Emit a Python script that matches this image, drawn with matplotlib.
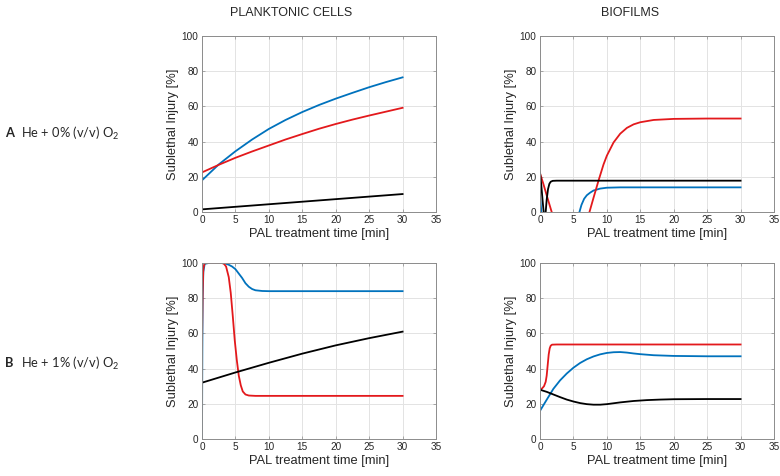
import numpy as np
import matplotlib
matplotlib.use("Agg")
import matplotlib.pyplot as plt

# ---------------- data ----------------
# A: He + 0% O2, planktonic cells
pa_blue_t = [0, 2.5, 5, 7.5, 10, 12.5, 15, 17.5, 20, 22.5, 25, 27.5, 30]
pa_blue_y = [18, 27, 34.5, 41.2, 47.2, 52.3, 56.8, 60.8, 64.4, 67.7, 70.9, 73.8, 76.5]
pa_red_t = [0, 2.5, 5, 7.5, 10, 12.5, 15, 17.5, 20, 22.5, 25, 27.5, 30]
pa_red_y = [22.5, 26.8, 30.8, 34.4, 37.8, 41.2, 44.3, 47.3, 50.0, 52.5, 54.8, 57.0, 59.2]
pa_blk_t = [0, 10, 20, 30]
pa_blk_y = [1.5, 4.4, 7.3, 10.2]

# A: He + 0% O2, biofilms
ba_blue_t = [0, 0.1, 0.2, 0.5, 3, 5.6, 5.9, 6.2, 6.6, 7.0, 7.5, 8.0, 9.0, 10, 12, 30]
ba_blue_y = [9, 5, 0, -10, -10, -3, 0, 4, 7.5, 9.5, 11, 12.2, 13.3, 13.8, 14, 14]
ba_red_t = [0, 0.5, 1.0, 1.75, 2.5, 4, 5.5, 6.8, 7.4, 8.0, 8.75, 9.5, 10, 11, 12, 13, 14, 15, 17, 20, 25, 30]
ba_red_y = [22, 16, 9.5, 0, -10, -20, -20, -8, 0, 8, 17.8, 27, 32, 39.5, 44.5, 47.8, 49.8, 51, 52.3, 52.9, 53.1, 53.1]
ba_blk_t = [0, 0.2, 0.4, 0.55, 0.7, 0.85, 1.0, 1.2, 1.4, 1.6, 1.9, 2.5, 30]
ba_blk_y = [22.5, 15, 6, 0, -4, 0, 7, 13, 16, 17.2, 17.7, 17.8, 17.8]

# B: He + 1% O2, planktonic cells
pb_blue_t = [0, 0.05, 0.1, 0.2, 0.4, 1, 3, 3.5, 4, 4.5, 5, 5.5, 6, 6.5, 7, 7.5, 8, 9, 10, 30]
pb_blue_y = [0, 50, 80, 95, 99.5, 100, 100, 99.7, 99, 98, 96.5, 94, 91.5, 88.5, 86.5, 85.2, 84.5, 84.1, 84, 84]
pb_red_t = [0, 0.1, 0.2, 0.4, 3, 3.3, 3.6, 4.0, 4.3, 4.6, 4.9, 5.2, 5.5, 5.8, 6.1, 6.5, 7, 8, 30]
pb_red_y = [53, 85, 97, 100, 100, 99.5, 98, 92, 83, 70, 56, 45, 36, 30.5, 27, 25.3, 24.7, 24.5, 24.5]
pb_blk_t = [0, 5, 10, 15, 20, 25, 30]
pb_blk_y = [32, 37.8, 43.3, 48.5, 53.2, 57.3, 61]

# B: He + 1% O2, biofilms
bb_blue_t = [0, 1, 2, 3, 4, 5, 6, 7, 8, 9, 10, 11, 12, 13, 14, 15, 17, 20, 25, 30]
bb_blue_y = [16, 22.3, 28.5, 33.3, 37.2, 40.5, 43.2, 45.3, 46.9, 48.1, 48.9, 49.3, 49.4, 49.1, 48.6, 48.2, 47.6, 47.2, 47.0, 47.0]
bb_red_t = [0, 0.3, 0.6, 0.85, 1.0, 1.15, 1.3, 1.45, 1.6, 1.8, 2.5, 30]
bb_red_y = [28, 28.7, 30, 32.5, 36, 42, 48, 51.5, 53, 53.6, 53.7, 53.7]
bb_blk_t = [0, 1, 2, 3, 4, 5, 6, 7, 8, 9, 10, 11, 12, 14, 16, 18, 20, 25, 30]
bb_blk_y = [28, 26.8, 25.3, 23.8, 22.4, 21.3, 20.4, 19.8, 19.5, 19.5, 19.8, 20.3, 20.8, 21.6, 22.1, 22.4, 22.6, 22.7, 22.7]

col_titles = ["PLANKTONIC CELLS", "BIOFILMS"]
row_letters = ["A", "B"]
row_texts = ["He + 0% (v/v) O$_2$", "He + 1% (v/v) O$_2$"]
x_ticks = [0, 5, 10, 15, 20, 25, 30, 35]
y_ticks = [0, 20, 40, 60, 80, 100]
xlabel = "PAL treatment time [min]"
ylabel = "Sublethal Injury [%]"

BLUE = "#0072BD"
RED = "#E3191C"
BLACK = "#000000"

plt.rcParams["font.family"] = ["Liberation Sans", "DejaVu Sans"]
plt.rcParams["mathtext.fontset"] = "custom"
plt.rcParams["mathtext.rm"] = "Lato"
plt.rcParams["mathtext.it"] = "Lato:italic"

fig = plt.figure(figsize=(7.8, 4.76), dpi=100)

panels = [
    [(pa_blue_t, pa_blue_y), (pa_red_t, pa_red_y), (pa_blk_t, pa_blk_y)],
    [(ba_blue_t, ba_blue_y), (ba_red_t, ba_red_y), (ba_blk_t, ba_blk_y)],
    [(pb_blue_t, pb_blue_y), (pb_red_t, pb_red_y), (pb_blk_t, pb_blk_y)],
    [(bb_blue_t, bb_blue_y), (bb_red_t, bb_red_y), (bb_blk_t, bb_blk_y)],
]
lefts = [202 / 780, 540 / 780]
bottoms = [(476 - 212) / 476, (476 - 439) / 476]
W = 234 / 780
H = 176 / 476

for r in range(2):
    for c in range(2):
        ax = fig.add_axes([lefts[c], bottoms[r], W, H])
        series = panels[r * 2 + c]
        for (t, y), col in zip(series, [BLUE, RED, BLACK]):
            ax.plot(t, y, color=col, lw=1.3, solid_joinstyle="round")
        ax.set_xlim(0, 35)
        ax.set_ylim(0, 100)
        ax.set_xticks(x_ticks)
        ax.set_yticks(y_ticks)
        ax.grid(True, color="#e3e3e3", lw=0.7)
        ax.set_axisbelow(True)
        ax.tick_params(direction="in", top=True, right=True, length=2.5,
                       width=0.6, colors="#9a9a9a", labelcolor="#262626",
                       labelsize=7.2, pad=2.5)
        for s in ax.spines.values():
            s.set_color("#8c8c8c")
            s.set_linewidth(0.7)
        ax.set_xlabel(xlabel, fontsize=9.3, color="#262626", labelpad=1.5)
        ax.set_ylabel(ylabel, fontsize=9.3, color="#262626", labelpad=2)

fig.text(291 / 780, 1 - 13 / 476, col_titles[0], ha="center", va="center",
         fontsize=9, color="#262626")
fig.text(630 / 780, 1 - 13 / 476, col_titles[1], ha="center", va="center",
         fontsize=9, color="#262626")

for i, yc in enumerate([133, 363]):
    fig.text(5 / 780, 1 - yc / 476, row_letters[i], ha="left", va="center",
             fontsize=9.3, fontweight="bold", family="Lato", color="#262626")
    fig.text(21 / 780, 1 - yc / 476, row_texts[i], ha="left", va="center",
             fontsize=9.3, family="Lato", color="#262626")

fig.savefig("out.png", dpi=100)
